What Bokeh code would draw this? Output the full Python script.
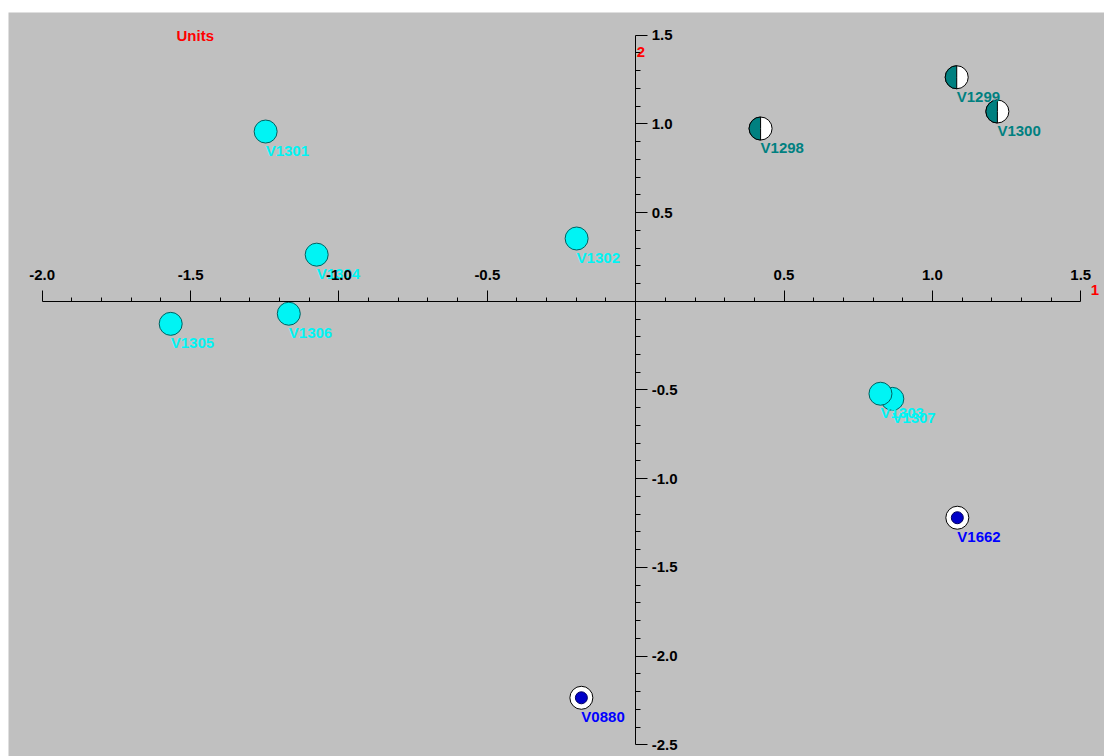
import math
import numpy as np
from bokeh.plotting import figure
from bokeh.models import LinearAxis, FixedTicker, Label, ColumnDataSource, Range1d
from bokeh.core.properties import value
from bokeh.embed import file_html
from bokeh.resources import INLINE

# ---- data ----
cyan_names = ["V1301", "V1304", "V1302", "V1305", "V1306", "V1307", "V1303"]
cyan_x = [-1.247, -1.075, -0.199, -1.567, -1.169, 0.865, 0.825]
cyan_y = [0.957, 0.263, 0.354, -0.127, -0.070, -0.550, -0.521]

half_names = ["V1298", "V1299", "V1300"]
half_x = [0.421, 1.082, 1.219]
half_y = [0.974, 1.263, 1.070]

blue_names = ["V1662", "V0880"]
blue_x = [1.084, -0.183]
blue_y = [-1.220, -2.235]

x_ticks = [-2.0, -1.5, -1.0, -0.5, 0.5, 1.0, 1.5]
x_tick_labels = ["-2.0", "-1.5", "-1.0", "-0.5", "0.5", "1.0", "1.5"]
y_ticks = [-2.5, -2.0, -1.5, -1.0, -0.5, 0.5, 1.0, 1.5]
y_tick_labels = ["-2.5", "-2.0", "-1.5", "-1.0", "-0.5", "0.5", "1.0", "1.5"]

FONT = "Liberation Sans"
CYAN = "#00f4f4"
TEAL = "#008080"
BLUE = "#0000ff"

p = figure(width=1104, height=756,
           x_range=Range1d(-2.1136, 1.580), y_range=Range1d(-2.566, 1.628),
           x_axis_location=None, y_axis_location=None,
           output_backend="svg", toolbar_location=None,
           background_fill_color="#c0c0c0", border_fill_color="white",
           min_border_top=12, min_border_left=8, min_border_right=0, min_border_bottom=0)
p.grid.visible = False
p.outline_line_color = None

x_minor = [i / 10 for i in range(-20, 16) if i % 5 != 0]
y_minor = [i / 10 for i in range(-25, 16) if i % 5 != 0]

xaxis = LinearAxis(fixed_location=0, bounds=(-2.0, 1.5),
                   ticker=FixedTicker(ticks=x_ticks, minor_ticks=x_minor))
xaxis.major_label_overrides = {t: l for t, l in zip(x_ticks, x_tick_labels)}
xaxis.major_tick_out = 11
xaxis.major_tick_in = 0
xaxis.minor_tick_out = 4
xaxis.minor_tick_in = 0
xaxis.major_label_standoff = 10
yaxis = LinearAxis(fixed_location=0, bounds=(-2.5, 1.5),
                   ticker=FixedTicker(ticks=y_ticks, minor_ticks=y_minor))
yaxis.major_label_overrides = {t: l for t, l in zip(y_ticks, y_tick_labels)}
yaxis.major_tick_out = 12
yaxis.major_tick_in = 0
yaxis.minor_tick_out = 5
yaxis.minor_tick_in = 0
yaxis.major_label_standoff = 4
for ax in (xaxis, yaxis):
    ax.axis_line_color = "black"
    ax.major_tick_line_color = "black"
    ax.minor_tick_line_color = "black"
    ax.major_label_text_font = FONT
    ax.major_label_text_font_style = "bold"
    ax.major_label_text_font_size = "15px"
    ax.major_label_text_color = "black"
p.add_layout(xaxis, "above")
p.add_layout(yaxis, "right")

# cyan points
cs = ColumnDataSource(dict(x=cyan_x, y=cyan_y, name=cyan_names))
p.scatter("x", "y", source=cs, size=23, fill_color=CYAN, line_color="#006060", line_width=1)
p.text("x", "y", text="name", source=cs, y_offset=19, text_align="left", text_baseline="middle",
       text_font=value(FONT), text_font_style="bold", text_font_size="15px", text_color=CYAN)

# half-filled points
hs = ColumnDataSource(dict(x=half_x, y=half_y, name=half_names))
p.scatter("x", "y", source=hs, size=23, fill_color="white", line_color="black", line_width=1)
p.wedge("x", "y", source=hs, radius=11.5, radius_units="screen",
        start_angle=math.pi / 2, end_angle=3 * math.pi / 2,
        fill_color=TEAL, line_color="black", line_width=1)
p.text("x", "y", text="name", source=hs, y_offset=19, text_align="left", text_baseline="middle",
       text_font=value(FONT), text_font_style="bold", text_font_size="15px", text_color=TEAL)

# blue target points
bs = ColumnDataSource(dict(x=blue_x, y=blue_y, name=blue_names))
p.scatter("x", "y", source=bs, size=23, fill_color="white", line_color="black", line_width=1)
p.scatter("x", "y", source=bs, size=12, fill_color="#0000c8", line_color="#000060", line_width=1)
p.text("x", "y", text="name", source=bs, y_offset=19, text_align="left", text_baseline="middle",
       text_font=value(FONT), text_font_style="bold", text_font_size="15px", text_color=BLUE)

# red labels
for txt, kw in [("Units", dict(x=168, y=721, x_units="screen", y_units="screen")),
                ("2", dict(x=0, y=1.408, x_offset=1)),
                ("1", dict(x=1.5, y=0, x_offset=10, y_offset=11))]:
    p.add_layout(Label(text=txt, text_color="red", text_font=FONT, text_font_style="bold",
                       text_font_size="15px", text_baseline="middle", text_align="left", **kw))

open("out.html", "w").write(file_html(p, INLINE))
